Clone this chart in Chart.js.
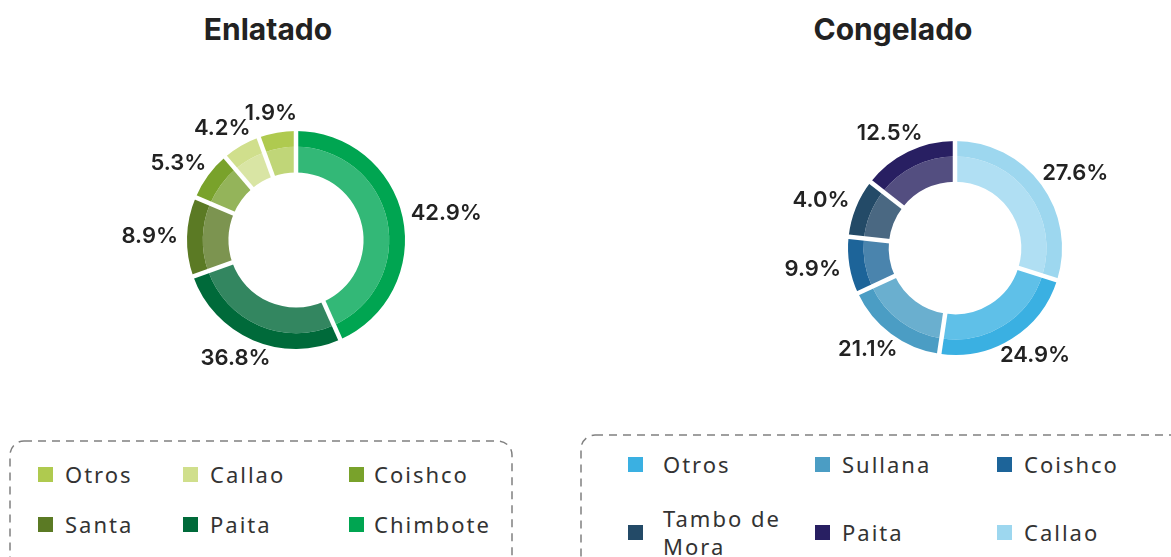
<!DOCTYPE html>
<html lang="es">
<head>
<meta charset="utf-8">
<script src="https://cdn.jsdelivr.net/npm/chart.js@4.4.1/dist/chart.umd.min.js"></script>
<style>
  html, body { margin: 0; padding: 0; background: #fff; }
  body { position: relative; width: 1171px; height: 557px; overflow: hidden; font-family: "Noto Sans", sans-serif; }
  .titulo { position: absolute; top: 11px; transform: translateX(-50%); font: 700 30px Inter, sans-serif; color: #222; white-space: nowrap; }
  canvas { position: absolute; }
  svg.caja { position: absolute; overflow: visible; }
  .leyenda { position: absolute; display: grid; }
  .item { display: flex; align-items: center; font-size: 22px; letter-spacing: 2px; color: #333; line-height: 28px; }
  .cuadro { flex: none; }
</style>
</head>
<body>

<div class="titulo" style="left:268px">Enlatado</div>
<div class="titulo" style="left:893px">Congelado</div>

<canvas id="graficoEnlatado" width="480" height="340" style="left:56px; top:70px"></canvas>
<canvas id="graficoCongelado" width="430" height="340" style="left:740px; top:78px"></canvas>

<svg class="caja" style="left:9px; top:440px" width="505" height="130">
  <rect x="1" y="1" width="502" height="150" rx="14" fill="none" stroke="#808080" stroke-width="1.5" stroke-dasharray="8 6"/>
</svg>
<svg class="caja" style="left:580px; top:434px" width="600" height="130">
  <rect x="1" y="1" width="620" height="150" rx="14" fill="none" stroke="#808080" stroke-width="1.5" stroke-dasharray="8 6"/>
</svg>

<div id="leyendaEnlatado" class="leyenda" style="left:38px; top:462px; grid-template-columns:145px 166px auto; grid-template-rows:24px 24px; row-gap:26px"></div>
<div id="leyendaCongelado" class="leyenda" style="left:628px; top:452px; grid-template-columns:187px 182px auto; grid-template-rows:24px 56px; row-gap:28px"></div>

<script>
// Enlatado (sentido horario desde las 12)
const enlatadoPuertos = ['Chimbote', 'Paita', 'Santa', 'Coishco', 'Callao', 'Otros'];
const enlatadoPorcentajes = [42.9, 36.8, 8.9, 5.3, 4.2, 1.9];
// tamaño de cada arco tal como se ve en el gráfico original (grados, no está a escala)
const enlatadoArcos = [156, 94.5, 42.5, 26.5, 20.5, 20];
const enlatadoColores = ['#00a551', '#006a3a', '#5b7a24', '#79a22b', '#d0df8c', '#afca4f'];
const enlatadoClaros = ['#33b877', '#338660', '#7c9450', '#94b45a', '#d9e5a4', '#c0d678'];
const enlatadoLeyenda = ['Otros', 'Callao', 'Coishco', 'Santa', 'Paita', 'Chimbote'];

// Congelado
const congeladoPuertos = ['Callao', 'Otros', 'Sullana', 'Coishco', 'Tambo de Mora', 'Paita'];
const congeladoPorcentajes = [27.6, 24.9, 21.1, 9.9, 4.0, 12.5];
const congeladoArcos = [107.5, 81, 56.5, 31, 32, 52];
const congeladoColores = ['#9dd7ef', '#3ab0e2', '#4b9dc4', '#1d6499', '#234a67', '#281f62'];
const congeladoClaros = ['#b0dff3', '#5fc0e8', '#6aafcf', '#4a84ad', '#4a6882', '#534e80'];
const congeladoLeyenda = ['Otros', 'Sullana', 'Coishco', 'Tambo de Mora', 'Paita', 'Callao'];

// lineas blancas entre porciones (atraviesan los dos anillos)
const separadores = {
    id: 'separadores',
    afterDatasetsDraw(chart) {
        const ext = chart.getDatasetMeta(0).data;
        const int = chart.getDatasetMeta(1).data;
        const ctx = chart.ctx;
        ctx.save();
        ctx.strokeStyle = '#ffffff';
        ctx.lineWidth = 4.5;
        ext.forEach((arc, i) => {
            const a = arc.startAngle;
            const r0 = int[i].innerRadius - 1;
            const r1 = arc.outerRadius + 2;
            ctx.beginPath();
            ctx.moveTo(arc.x + Math.cos(a) * r0, arc.y + Math.sin(a) * r0);
            ctx.lineTo(arc.x + Math.cos(a) * r1, arc.y + Math.sin(a) * r1);
            ctx.stroke();
        });
        ctx.restore();
    }
};

// porcentajes fuera del anillo
const etiquetas = {
    id: 'etiquetas',
    afterDatasetsDraw(chart) {
        const ctx = chart.ctx;
        const arcs = chart.getDatasetMeta(0).data;
        const textos = chart.data.datasets[0].porcentajes;
        ctx.save();
        ctx.font = '600 22px Inter, sans-serif';
        ctx.fillStyle = '#222222';
        ctx.textAlign = 'center';
        ctx.textBaseline = 'middle';
        arcs.forEach((arc, i) => {
            const texto = textos[i].toFixed(1) + '%';
            const a = (arc.startAngle + arc.endAngle) / 2;
            const dx = Math.cos(a), dy = Math.sin(a);
            const w = ctx.measureText(texto).width;
            const r = arc.outerRadius + 9;
            ctx.fillText(texto, arc.x + dx * r + dx * w / 2, arc.y + dy * r + dy * 11);
        });
        ctx.restore();
    }
};

function crearDona(id, puertos, arcos, porcentajes, colores, claros, padding) {
    const ctx = document.getElementById(id).getContext('2d');
    return new Chart(ctx, {
        type: 'doughnut',
        data: {
            labels: puertos,
            datasets: [{
                data: arcos,
                porcentajes: porcentajes,
                backgroundColor: colores,
                borderWidth: 0,
                weight: 16
            }, {
                data: arcos,
                backgroundColor: claros,
                borderWidth: 0,
                weight: 26
            }]
        },
        options: {
            responsive: false,
            animation: false,
            cutout: '62%',
            layout: { padding: padding },
            plugins: {
                legend: { display: false },
                tooltip: { enabled: false }
            }
        },
        plugins: [separadores, etiquetas]
    });
}

crearDona('graficoEnlatado', enlatadoPuertos, enlatadoArcos, enlatadoPorcentajes,
    enlatadoColores, enlatadoClaros, { left: 131, right: 131, top: 61, bottom: 61 });
crearDona('graficoCongelado', congeladoPuertos, congeladoArcos, congeladoPorcentajes,
    congeladoColores, congeladoClaros, { left: 108, right: 108, top: 63, bottom: 63 });

// separaciones = espacio entre cuadro y texto, por columna
function armarLeyenda(id, orden, puertos, colores, tamCuadro, separaciones, anchoTexto) {
    const cont = document.getElementById(id);
    orden.forEach((nombre, n) => {
        const i = puertos.indexOf(nombre);
        const item = document.createElement('div');
        item.className = 'item';
        const cuadro = document.createElement('span');
        cuadro.className = 'cuadro';
        cuadro.style.width = tamCuadro + 'px';
        cuadro.style.height = tamCuadro + 'px';
        cuadro.style.marginRight = separaciones[n % 3] + 'px';
        cuadro.style.background = colores[i];
        const texto = document.createElement('span');
        texto.textContent = nombre;
        texto.style.maxWidth = anchoTexto + 'px';
        item.appendChild(cuadro);
        item.appendChild(texto);
        cont.appendChild(item);
    });
}

armarLeyenda('leyendaEnlatado', enlatadoLeyenda, enlatadoPuertos, enlatadoColores, 15, [12, 12, 10], 200);
armarLeyenda('leyendaCongelado', congeladoLeyenda, congeladoPuertos, congeladoColores, 15, [20, 12, 12], 130);
</script>
</body>
</html>
